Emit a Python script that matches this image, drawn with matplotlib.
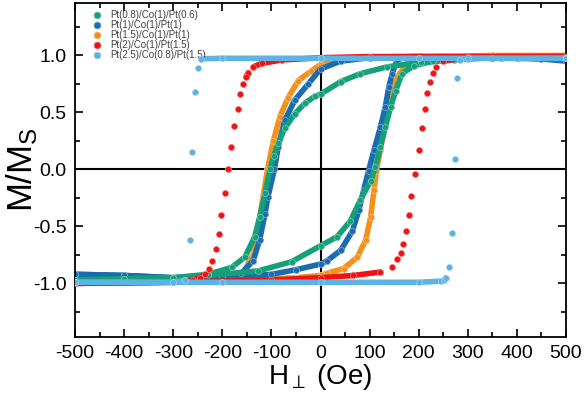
import numpy as np
import matplotlib
matplotlib.use('Agg')
import matplotlib.pyplot as plt
from matplotlib.lines import Line2D
from matplotlib.colors import to_rgb
from matplotlib.ticker import MultipleLocator, FormatStrFormatter

plt.rcParams['font.family'] = ['Liberation Sans', 'DejaVu Sans']
plt.rcParams['mathtext.fontset'] = 'custom'
plt.rcParams['mathtext.rm'] = 'Liberation Sans'
plt.rcParams['mathtext.it'] = 'Liberation Sans'
plt.rcParams['axes.unicode_minus'] = False

# sample names, in legend order
labels = ['Pt(0.8)/Co(1)/Pt(0.6)', 'Pt(1)/Co(1)/Pt(1)', 'Pt(1.5)/Co(1)/Pt(1)',
          'Pt(2)/Co(1)/Pt(1.5)', 'Pt(2.5)/Co(0.8)/Pt(1.5)']
colors = ['#14a078', '#1a6cb0', '#f5901a', '#ee1414', '#5db3e4']

# field sweeps: down = +500 -> -500, up = -500 -> +500
green_down_x = [500, 450, 400, 367, 300, 271, 204, 136, 81, 41, 0, -12, -32, -52, -73, -86, -95, -103,
                -113, -124, -134, -154, -181, -229, -300, -400, -500]
green_down_y = [0.99, 0.99, 0.985, 0.98, 0.97, 0.96, 0.94, 0.90, 0.84, 0.77, 0.66, 0.64, 0.58, 0.49, 0.36,
                0.23, 0.12, 0.00, -0.21, -0.42, -0.59, -0.77, -0.86, -0.92, -0.95, -0.96, -0.97]
green_up_x = [-500, -400, -300, -229, -127, -59, 0, 34, 61, 81, 102, 112, 122, 132, 143, 153, 166, 190,
              230, 271, 367, 500]
green_up_y = [-0.97, -0.96, -0.95, -0.93, -0.89, -0.81, -0.67, -0.59, -0.45, -0.27, -0.10, 0.02, 0.20,
              0.37, 0.55, 0.69, 0.84, 0.91, 0.95, 0.97, 0.99, 0.99]

blue_down_x = [500, 400, 300, 200, 100, 41, 0, -25, -52, -73, -86, -94, -107, -113, -124, -137, -161,
               -200, -300, -400, -500]
blue_down_y = [0.96, 0.98, 0.98, 0.99, 0.98, 0.95, 0.88, 0.75, 0.61, 0.43, 0.20, 0.00, -0.24, -0.39,
               -0.62, -0.80, -0.91, -0.94, -0.95, -0.93, -0.92]
blue_up_x = [-500, -400, -300, -200, -100, -50, 0, 14, 41, 65, 78, 88, 98, 109, 122, 132, 139, 146, 156,
             177, 250, 350, 450, 500]
blue_up_y = [-0.92, -0.93, -0.95, -0.95, -0.92, -0.88, -0.83, -0.80, -0.71, -0.54, -0.36, -0.18, -0.01,
             0.17, 0.37, 0.55, 0.72, 0.84, 0.96, 0.99, 0.99, 0.98, 0.97, 0.95]

orange_down_x = [500, 300, 150, 50, 0, -20, -45, -66, -83, -96, -108, -117, -127, -137, -157, -196,
                 -300, -500]
orange_down_y = [0.99, 0.99, 0.99, 0.97, 0.92, 0.86, 0.78, 0.63, 0.46, 0.25, 0.00, -0.24, -0.51, -0.74,
                 -0.91, -0.97, -0.99, -0.99]
orange_up_x = [-500, -300, -150, -50, 0, 14, 47, 75, 92, 102, 109, 114, 122, 132, 143, 156, 177, 238,
               350, 500]
orange_up_y = [-0.99, -0.98, -0.97, -0.95, -0.93, -0.91, -0.87, -0.77, -0.62, -0.42, -0.18, -0.01, 0.17,
               0.40, 0.63, 0.81, 0.93, 0.99, 1.0, 1.0]

red_down_x = [500, 300, 100, 0, -79, -120, -137, -147, -152, -157, -163, -169, -176, -183, -189, -195,
              -202, -207, -213, -220, -227, -236, -245, -260, -300, -500]
red_down_y = [0.99, 0.99, 0.99, 0.98, 0.96, 0.93, 0.90, 0.85, 0.81, 0.75, 0.66, 0.53, 0.38, 0.20, 0.00,
              -0.21, -0.40, -0.57, -0.70, -0.80, -0.87, -0.92, -0.95, -0.97, -0.99, -1.0]
red_up_x = [-500, -300, -100, 0, 67, 122, 146, 156, 163, 169, 175, 181, 185, 193, 200, 206, 212, 217,
            223, 229, 236, 250, 280, 350, 500]
red_up_y = [-1.0, -0.99, -0.97, -0.95, -0.93, -0.90, -0.86, -0.79, -0.73, -0.65, -0.54, -0.40, -0.23,
            -0.04, 0.17, 0.36, 0.53, 0.67, 0.77, 0.85, 0.90, 0.95, 0.97, 0.98, 0.99]

lblue_down_x = [500, 200, 0, -200, -244, -249, -256, -261, -266, -275, -300, -500]
lblue_down_y = [0.975, 0.975, 0.975, 0.975, 0.97, 0.89, 0.68, 0.15, -0.62, -0.97, -0.99, -0.99]
lblue_up_x = [-500, -200, 0, 200, 245, 252, 255, 261, 268, 274, 278, 285, 300, 500]
lblue_up_y = [-0.99, -0.99, -0.99, -0.99, -0.98, -0.97, -0.95, -0.86, -0.56, 0.09, 0.80, 0.96, 0.975, 0.975]

branches = [
    [(green_down_x, green_down_y), (green_up_x, green_up_y)],
    [(blue_down_x, blue_down_y), (blue_up_x, blue_up_y)],
    [(orange_down_x, orange_down_y), (orange_up_x, orange_up_y)],
    [(red_down_x, red_down_y), (red_up_x, red_up_y)],
    [(lblue_down_x, lblue_down_y), (lblue_up_x, lblue_up_y)],
]
# steep parts of the red and light blue loops show up as separate dots
join_step = [10, 10, 10, 0.04, 0.04]
draw_order = [3, 2, 1, 4, 5]


def lighter(c, f=0.45):
    r, g, b = to_rgb(c)
    return (r + (1 - r) * f, g + (1 - g) * f, b + (1 - b) * f)


fig = plt.figure(figsize=(5.85, 3.94), dpi=100)
ax = fig.add_axes([75 / 585, 1 - 337 / 394, 491 / 585, 334 / 394])

for i in range(5):
    for bx, by in branches[i]:
        bx = np.array(bx, dtype=float)
        by = np.array(by, dtype=float)
        # thick line only where neighbouring points sit close together
        start = 0
        for k in range(1, len(bx) + 1):
            if k == len(bx) or abs(by[k] - by[k - 1]) > join_step[i]:
                if k - start > 1:
                    ax.plot(bx[start:k], by[start:k], color=colors[i], lw=4.0,
                            solid_capstyle='round', zorder=draw_order[i])
                start = k
        ax.plot(bx, by, 'o', color=colors[i], ms=4.4, mec=lighter(colors[i]), mew=0.5,
                zorder=draw_order[i] + 0.5)

ax.axhline(0, color='black', lw=1.5, zorder=0.5)
ax.axvline(0, color='black', lw=1.5, zorder=0.5)

ax.set_xlim(-500, 500)
ax.set_ylim(-1.47, 1.46)
ax.xaxis.set_major_locator(MultipleLocator(100))
ax.xaxis.set_minor_locator(MultipleLocator(50))
ax.yaxis.set_major_locator(MultipleLocator(0.5))
ax.yaxis.set_minor_locator(MultipleLocator(0.25))
ax.yaxis.set_major_formatter(FormatStrFormatter('%.1f'))
ax.tick_params(which='both', direction='in', top=True, right=True, width=1.2, labelsize=14)
ax.tick_params(which='major', length=6, pad=6)
ax.tick_params(which='minor', length=3.5)
for s in ax.spines.values():
    s.set_linewidth(1.3)

ax.set_xlabel(r'H$_\perp$ (Oe)', fontsize=20, labelpad=0)
ax.set_ylabel(r'M/M$_\mathregular{S}$', fontsize=25)
ax.yaxis.set_label_coords(-0.072, 0.5)

handles = [Line2D([], [], ls='none', marker='o', color=c, ms=5, mec=lighter(c), mew=0.5) for c in colors]
ax.legend(handles, labels, loc='upper left', bbox_to_anchor=(0.03, 0.985), frameon=False,
          fontsize=7, labelcolor='#404040', handlelength=1.0, handletextpad=0.9,
          labelspacing=0.0, borderpad=0.2, borderaxespad=0)

fig.savefig('out.png', dpi=100)
